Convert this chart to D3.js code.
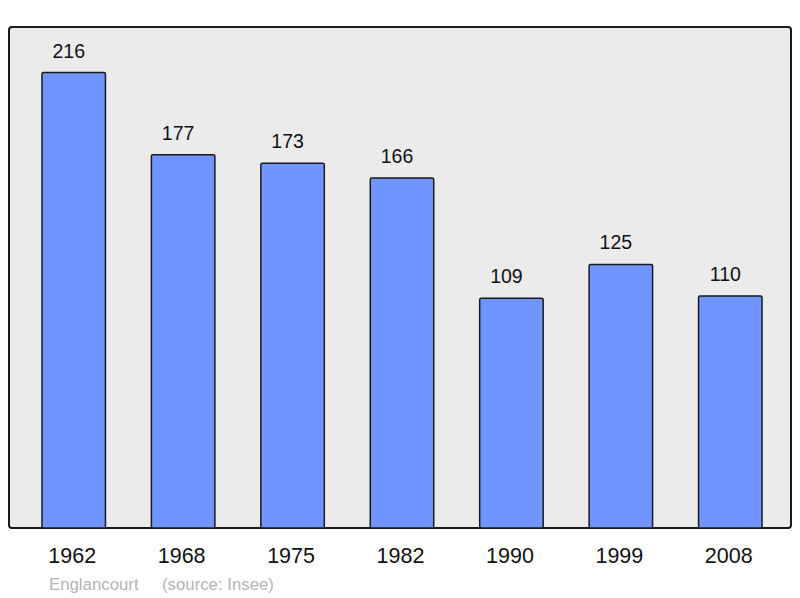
<!DOCTYPE html>
<html>
<head>
<meta charset="utf-8">
<script src="https://cdn.jsdelivr.net/npm/d3@7"></script>
<style>
  body { margin: 0; background: #fff; }
  text { font-family: "Liberation Sans", Arial, sans-serif; }
</style>
</head>
<body>
<div id="chart"></div>
<script>
// population data
var years = ["1962", "1968", "1975", "1982", "1990", "1999", "2008"];
var population = [216, 177, 173, 166, 109, 125, 110];
var townName = "Englancourt";
var sourceText = "(source: Insee)";

var svgWidth = 800, svgHeight = 598;
var plot = {left: 9, top: 27, right: 791, bottom: 528};

var svg = d3.select("#chart")
  .append("svg")
    .attr("width", svgWidth)
    .attr("height", svgHeight);

// background frame
svg.append("rect")
  .attr("x", plot.left)
  .attr("y", plot.top)
  .attr("width", plot.right - plot.left)
  .attr("height", plot.bottom - plot.top)
  .attr("rx", 3)
  .attr("fill", "#ebebeb")
  .attr("stroke", "#1a1a1a")
  .attr("stroke-width", 2);

var x = d3.scaleBand()
  .domain(years)
  .range([19, 785])
  .paddingInner(0.42)
  .paddingOuter(0.21);

var y = d3.scaleLinear()
  .domain([0, d3.max(population) * 1.1])
  .range([plot.bottom, plot.top]);

var data = years.map(function(d, i) { return {year: d, value: population[i]}; });

svg.selectAll(".bar")
  .data(data)
  .enter().append("rect")
    .attr("class", "bar")
    .attr("x", function(d) { return x(d.year); })
    .attr("y", function(d) { return y(d.value); })
    .attr("width", x.bandwidth())
    .attr("height", function(d) { return plot.bottom - y(d.value); })
    .attr("rx", 1.5)
    .attr("fill", "#7095ff")
    .attr("stroke", "#1a1a1a")
    .attr("stroke-width", 1.5);

// value labels sit a bit left of the bar centre
svg.selectAll(".val")
  .data(data)
  .enter().append("text")
    .attr("class", "val")
    .attr("x", function(d) { return x(d.year) + x.bandwidth() / 2 - 5; })
    .attr("y", function(d) { return y(d.value) - 15; })
    .attr("text-anchor", "middle")
    .attr("font-size", 19.5)
    .attr("fill", "#111")
    .text(function(d) { return d.value; });

// x axis labels, no line
var xAxis = svg.append("g")
  .attr("transform", `translate(-1.5, ${plot.bottom})`)
  .call(d3.axisBottom(x).tickSize(0).tickPadding(20));
xAxis.select(".domain").remove();
xAxis.selectAll("text")
  .attr("font-size", 21.5)
  .attr("font-family", "Liberation Sans, Arial, sans-serif")
  .attr("fill", "#111");

svg.append("text")
  .attr("x", 49)
  .attr("y", 590)
  .attr("font-size", 16.8)
  .attr("fill", "#b4b4b4")
  .text(townName);
svg.append("text")
  .attr("x", 162)
  .attr("y", 590)
  .attr("font-size", 16.8)
  .attr("fill", "#b4b4b4")
  .text(sourceText);
</script>
</body>
</html>
